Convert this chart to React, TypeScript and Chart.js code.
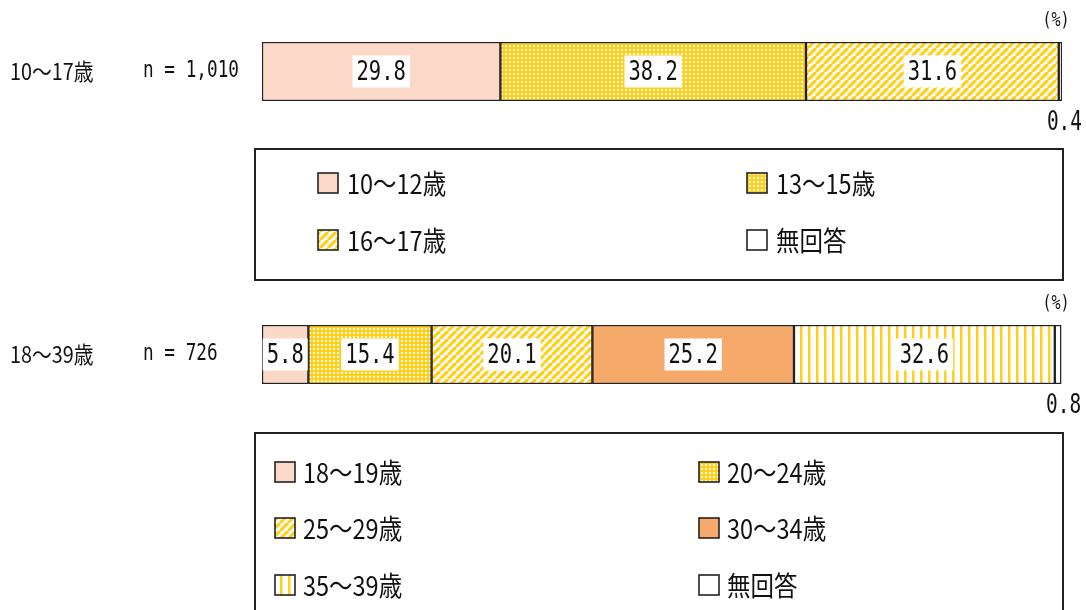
import React, { useEffect, useRef } from "react";
import { Chart, registerables } from "chart.js";

Chart.register(...registerables);

// ---------- data ----------
const rowLabel1 = "10〜17歳";
const nLabel1 = "n = 1,010";
const groups1 = ["10〜12歳", "13〜15歳", "16〜17歳", "無回答"];
const values1 = [29.8, 38.2, 31.6, 0.4];
const fills1 = ["pink", "dots", "diag", "white"];

const rowLabel2 = "18〜39歳";
const nLabel2 = "n = 726";
const groups2 = ["18〜19歳", "20〜24歳", "25〜29歳", "30〜34歳", "35〜39歳", "無回答"];
const values2 = [5.8, 15.4, 20.1, 25.2, 32.6, 0.8];
const fills2 = ["pink", "dots", "diag", "orange", "vstripe", "white"];

const unitLabel = "(%)";

// ---------- styles ----------
const YELLOW = "#FFCF1C";
const PINK = "#FCD8C8";
const ORANGE = "#F5A96B";
const EDGE = "#222222";
const JP = '"Noto Sans CJK JP", "Noto Sans", sans-serif';
const MONO = '"DejaVu Sans Mono", "Noto Sans CJK JP", monospace';

function makePattern(kind: string): CanvasPattern | string {
  if (kind === "pink") return PINK;
  if (kind === "orange") return ORANGE;
  if (kind === "white") return "#ffffff";
  const c = document.createElement("canvas");
  const g = c.getContext("2d")!;
  if (kind === "dots") {
    c.width = 4; c.height = 4;
    g.fillStyle = YELLOW; g.fillRect(0, 0, 4, 4);
    g.fillStyle = "rgba(255,255,255,0.9)";
    g.fillRect(1, 1, 2, 2);
  } else if (kind === "diag") {
    const s = 8;
    c.width = s; c.height = s;
    g.fillStyle = "#ffffff"; g.fillRect(0, 0, s, s);
    g.strokeStyle = YELLOW; g.lineWidth = 3.2;
    for (const o of [-s, 0, s]) {
      g.beginPath(); g.moveTo(o, s); g.lineTo(o + s, 0); g.stroke();
    }
  } else if (kind === "vstripe") {
    c.width = 8; c.height = 4;
    g.fillStyle = "#ffffff"; g.fillRect(0, 0, 8, 4);
    g.fillStyle = YELLOW; g.fillRect(0, 0, 2.5, 4);
  }
  return g.createPattern(c, "repeat")!;
}

function drawText(ctx: CanvasRenderingContext2D, s: string, x: number, y: number, size: number, family: string, align: "left" | "center" | "right", sx: number) {
  ctx.save();
  ctx.font = `${size}px ${family}`;
  ctx.textBaseline = "middle";
  ctx.textAlign = "left";
  const w = ctx.measureText(s).width * sx;
  const x0 = align === "center" ? x - w / 2 : align === "right" ? x - w : x;
  ctx.translate(x0, y);
  ctx.scale(sx, 1);
  ctx.fillStyle = "#111";
  ctx.fillText(s, 0, 0);
  ctx.restore();
  return w;
}

type PanelCfg = {
  rowLabel: string;
  nLabel: string;
  groups: string[];
  values: number[];
  fills: string[];
  height: number;
  legendBox: { x: number; y: number; w: number; h: number };
  legendCols: { sw: number; tx: number }[];
  legendRows: number[];
};

function Panel({ cfg, top }: { cfg: PanelCfg; top: number }) {
  const ref = useRef<HTMLCanvasElement>(null);
  useEffect(() => {
    const canvas = ref.current!;
    const pats = cfg.fills.map(makePattern);
    const overlay = {
      id: "overlay",
      afterDatasetsDraw(chart: any) {
        const ctx: CanvasRenderingContext2D = chart.ctx;
        const area = chart.chartArea;
        const midY = (area.top + area.bottom) / 2;
        // row labels
        drawText(ctx, cfg.rowLabel, 10, midY, 23, JP, "left", 0.86);
        drawText(ctx, cfg.nLabel, 143, midY, 23, MONO, "left", 0.77);
        drawText(ctx, unitLabel, area.right - 6, 21, 20, MONO, "center", 0.75);
        // value labels
        chart.data.datasets.forEach((ds: any, i: number) => {
          const el = chart.getDatasetMeta(i).data[0];
          if (!el) return;
          const v = ds.data[0] as number;
          const s = v.toFixed(1);
          const left = Math.min(el.x, el.base);
          const right = Math.max(el.x, el.base);
          if (right - left > 40) {
            ctx.save();
            ctx.font = `27px ${MONO}`;
            const w = ctx.measureText(s).width * 0.76;
            ctx.restore();
            const cx = (left + right) / 2;
            ctx.fillStyle = "#ffffff";
            ctx.fillRect(cx - w / 2 - 4, el.y - 16, w + 8, 32);
            drawText(ctx, s, cx, el.y + 1, 27, MONO, "center", 0.76);
          } else {
            drawText(ctx, s, right + 20, area.bottom + 22, 27, MONO, "right", 0.72);
          }
        });
        // legend
        const b = cfg.legendBox;
        ctx.save();
        ctx.strokeStyle = EDGE;
        ctx.lineWidth = 2;
        ctx.strokeRect(b.x, b.y, b.w, b.h);
        ctx.restore();
        cfg.groups.forEach((g, i) => {
          const col = cfg.legendCols[i % 2];
          const ry = cfg.legendRows[Math.floor(i / 2)];
          ctx.save();
          ctx.fillStyle = pats[i] as any;
          ctx.fillRect(col.sw, ry - 10, 20, 20);
          ctx.strokeStyle = EDGE;
          ctx.lineWidth = 1.6;
          ctx.strokeRect(col.sw, ry - 10, 20, 20);
          ctx.restore();
          drawText(ctx, g, col.tx, ry + 1, 27, JP, "left", 0.87);
        });
      },
    };
    const chart = new Chart(canvas, {
      type: "bar",
      data: {
        labels: [""],
        datasets: cfg.values.map((v, i) => ({
          label: cfg.groups[i],
          data: [v],
          backgroundColor: pats[i] as any,
          borderColor: EDGE,
          borderWidth: 1.5,
          borderSkipped: false,
          barPercentage: 1,
          categoryPercentage: 1,
        })),
      },
      options: {
        indexAxis: "y",
        animation: false,
        responsive: false,
        events: [],
        layout: { padding: { left: 262, right: 24, top: 42, bottom: cfg.height - 101 } },
        scales: {
          x: { stacked: true, min: 0, max: 100, display: false },
          y: { stacked: true, display: false },
        },
        plugins: { legend: { display: false }, tooltip: { enabled: false } },
      },
      plugins: [overlay],
    });
    return () => chart.destroy();
  }, [cfg]);
  return (
    <canvas
      ref={ref}
      width={1086}
      height={cfg.height}
      style={{ position: "absolute", left: 0, top, width: 1086, height: cfg.height }}
    />
  );
}

const panel1: PanelCfg = {
  rowLabel: rowLabel1,
  nLabel: nLabel1,
  groups: groups1,
  values: values1,
  fills: fills1,
  height: 283,
  legendBox: { x: 255, y: 149, w: 808, h: 131 },
  legendCols: [{ sw: 318, tx: 347 }, { sw: 747, tx: 776 }],
  legendRows: [183, 240],
};

const panel2: PanelCfg = {
  rowLabel: rowLabel2,
  nLabel: nLabel2,
  groups: groups2,
  values: values2,
  fills: fills2,
  height: 327,
  legendBox: { x: 255, y: 150, w: 808, h: 200 },
  legendCols: [{ sw: 275, tx: 303 }, { sw: 699, tx: 727 }],
  legendRows: [189, 245, 302],
};

export default function App() {
  return (
    <div style={{ position: "fixed", left: 0, top: 0, width: 1086, height: 610, background: "#fff", overflow: "hidden" }}>
      <Panel cfg={panel1} top={0} />
      <Panel cfg={panel2} top={283} />
    </div>
  );
}
